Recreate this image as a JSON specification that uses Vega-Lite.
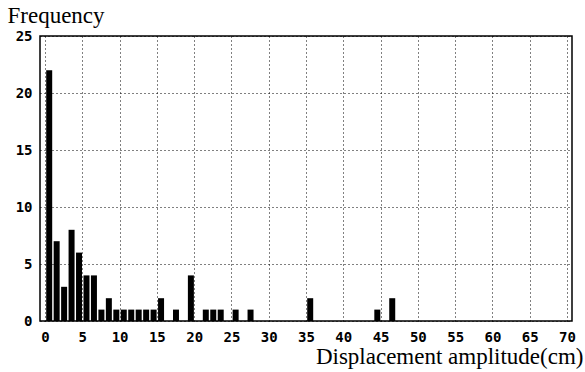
{
  "$schema": "https://vega.github.io/schema/vega-lite/v6.json",
  "width": 532,
  "height": 285,
  "autosize": {"type": "none"},
  "padding": {"left": 40, "top": 36, "right": 13, "bottom": 51},
  "background": "white",
  "data": {"values": [
    {"amp": 0, "freq": 22}, {"amp": 1, "freq": 7}, {"amp": 2, "freq": 3}, {"amp": 3, "freq": 8},
    {"amp": 4, "freq": 6}, {"amp": 5, "freq": 4}, {"amp": 6, "freq": 4}, {"amp": 7, "freq": 1},
    {"amp": 8, "freq": 2}, {"amp": 9, "freq": 1}, {"amp": 10, "freq": 1}, {"amp": 11, "freq": 1},
    {"amp": 12, "freq": 1}, {"amp": 13, "freq": 1}, {"amp": 14, "freq": 1}, {"amp": 15, "freq": 2},
    {"amp": 17, "freq": 1}, {"amp": 19, "freq": 4}, {"amp": 21, "freq": 1}, {"amp": 22, "freq": 1},
    {"amp": 23, "freq": 1}, {"amp": 25, "freq": 1}, {"amp": 27, "freq": 1}, {"amp": 35, "freq": 2},
    {"amp": 44, "freq": 1}, {"amp": 46, "freq": 2}
  ]},
  "mark": {"type": "bar", "color": "black", "size": 6, "xOffset": 4.2},
  "encoding": {
    "x": {"field": "amp", "type": "quantitative",
      "scale": {"domain": [0, 70], "nice": false, "zero": true},
      "axis": {"values": [0,5,10,15,20,25,30,35,40,45,50,55,60,65,70],
        "title": "Displacement amplitude(cm)", "titleFont": "Liberation Serif", "titleFontSize": 23,
        "titleFontWeight": "normal", "titleColor": "black", "titleAnchor": "end", "titleAlign": "right",
        "titleX": 543, "titleY": 42, "titleBaseline": "alphabetic",
        "labelFont": "DejaVu Sans Mono", "labelFontSize": 14, "labelFontWeight": "bold", "labelColor": "black", "labelPadding": 9,
        "labelFlush": false, "ticks": false, "domain": false,
        "grid": true, "gridColor": "black", "gridDash": [1, 3], "gridWidth": 1, "gridOpacity": 1}},
    "y": {"field": "freq", "type": "quantitative",
      "scale": {"domain": [0, 25], "nice": false},
      "axis": {"values": [0,5,10,15,20,25],
        "title": "Frequency", "titleFont": "Liberation Serif", "titleFontSize": 23,
        "titleFontWeight": "normal", "titleColor": "black", "titleAngle": 0, "titleAlign": "left",
        "titleX": -33, "titleY": -14, "titleBaseline": "alphabetic",
        "labelFont": "DejaVu Sans Mono", "labelFontSize": 14, "labelFontWeight": "bold", "labelColor": "black", "labelPadding": 8,
        "labelFlush": false, "ticks": false, "domain": false,
        "grid": true, "gridColor": "black", "gridDash": [1, 3], "gridWidth": 1, "gridOpacity": 1}}
  },
  "config": {"view": {"stroke": "black", "strokeWidth": 1.5}}
}
